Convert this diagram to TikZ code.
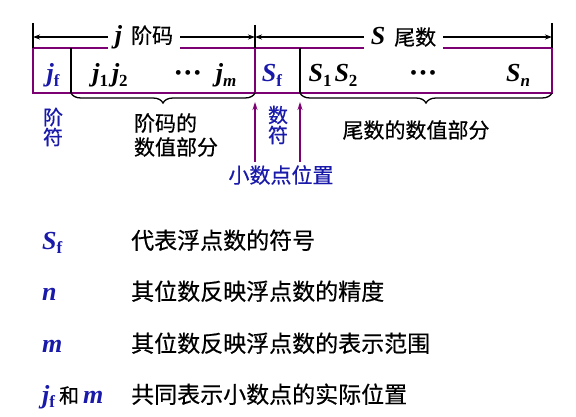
\documentclass[tikz,border=0pt]{standalone}
\usepackage{fontspec}
\setmainfont{Liberation Serif}
\newfontfamily\cjk[FakeBold=0.5]{Noto Sans CJK SC}
\usetikzlibrary{arrows.meta,decorations.pathreplacing}
\definecolor{fmtblue}{RGB}{25,25,170}
\definecolor{fmtpurple}{RGB}{125,0,115}
\newcommand{\sy}[1]{{\rmfamily\fontsize{26}{26}\selectfont\bfseries\itshape #1}}
\newcommand{\lsub}[1]{\raisebox{-0.35ex}{\rmfamily\fontsize{17}{17}\selectfont\bfseries\upshape #1}}
\newcommand{\hdots}{\raisebox{2.5pt}{\rmfamily\fontsize{20}{20}\selectfont\textbullet\hspace{2.5pt}\textbullet\hspace{2.5pt}\textbullet}}
\tikzset{
  sym/.style={font=\rmfamily\fontsize{26}{26}\selectfont, anchor=base, inner sep=1pt},
  zh/.style={font=\cjk\fontsize{21}{24}\selectfont},
  zhbig/.style={font=\cjk\fontsize{23}{26}\selectfont},
  frame/.style={draw=fmtpurple, line width=1.3pt},
  divline/.style={draw=black, line width=1.3pt},
  dimline/.style={line width=1.3pt, {Stealth[length=7pt,width=5pt]}-{Stealth[length=7pt,width=5pt]}},
  uparrow/.style={draw=fmtpurple, line width=1.3pt, -{Stealth[length=8pt,width=5pt]}},
  brace/.style={draw=black, line width=1.3pt, decorate, decoration={brace, mirror, amplitude=10pt}}
}
\begin{document}
\begin{tikzpicture}[x=1pt, y=-1pt]
  \useasboundingbox (0,0) rectangle (576,417);
  % word layout
  \coordinate (tl) at (33,48);
  \coordinate (br) at (552,93);
  \draw[frame] (tl) rectangle (br);
  \foreach \x in {71,300} \draw[divline] (\x,48) -- (\x,93);
  \draw[fmtpurple, line width=2.6pt] (255,48) -- (255,93);
  \foreach \x/\t in {33/23,255/25,552/23} \draw[divline] (\x,\t) -- (\x,48);
  \coordinate (dl) at (33,37);
  \coordinate (dm) at (255,37);
  \coordinate (dr) at (552,37);
  \draw[dimline] (dl) -- node[fill=white, zh, inner xsep=7pt] (jtitle) {\sy{j}\hspace{9pt}阶码} (dm);
  \draw[dimline] (dm) -- node[fill=white, zh, inner xsep=7pt] (stitle) {\sy{S}\hspace{9pt}尾数} (dr);
  \node[sym, text=fmtblue] (jf) at (53,82) {\sy{j}\lsub{f}};
  \node[sym] (j12) at (110,82) {\sy{j}\lsub{1}\hspace{4pt}\sy{j}\lsub{2}};
  \node[sym] (jdots) at (188,82) {\hdots};
  \node[sym] (jm) at (226,82) {\sy{j}\lsub{\itshape m}};
  \node[sym, text=fmtblue] (sf) at (272,82) {\sy{S}\lsub{f}};
  \node[sym] (s12) at (333,82) {\sy{S}\lsub{1}\hspace{3pt}\sy{S}\lsub{2}};
  \node[sym] (sdots) at (423,82) {\hdots};
  \node[sym] (sn) at (518,82) {\sy{S}\lsub{\itshape n}};
  % braces and notes
  \draw[brace] (71,93) -- (255,93);
  \draw[brace] (300,93) -- (552,93);
  \node[zh, text=fmtblue, align=center, font=\cjk\fontsize{20}{20}\selectfont] (jsign) at (53,127) {阶\\符};
  \node[zh, align=left] (jval) at (176,135) {阶码的\\数值部分};
  \node[zh, text=fmtblue, align=center, font=\cjk\fontsize{20}{20}\selectfont] (ssign) at (278,125) {数\\符};
  \node[zh] (sval) at (416,130) {尾数的数值部分};
  \node[zh, text=fmtblue] (point) at (281,175) {小数点位置};
  \coordinate (p1) at (255,102);
  \coordinate (p2) at (300,102);
  \draw[uparrow] (p1 |- point.north) -- (p1);
  \draw[uparrow] (p2 |- point.north) -- (p2);
  % legend
  \foreach \n/\y/\s/\t in {sf/249/{\sy{S}\lsub{f}}/代表浮点数的符号,
                            n/300/{\sy{n}}/其位数反映浮点数的精度,
                            m/352/{\sy{m}}/其位数反映浮点数的表示范围,
                            jm/403/{\sy{j}\lsub{f}\hspace{4pt}{\color{black}\cjk\fontsize{20}{20}\selectfont 和}\hspace{4pt}\sy{m}}/共同表示小数点的实际位置} {
    \node[sym, anchor=base west, text=fmtblue] (key-\n) at (41,\y) {\s};
    \node[zhbig, anchor=base west, inner sep=0pt] (desc-\n) at (131,\y) {\t};
  }
\end{tikzpicture}
\end{document}
